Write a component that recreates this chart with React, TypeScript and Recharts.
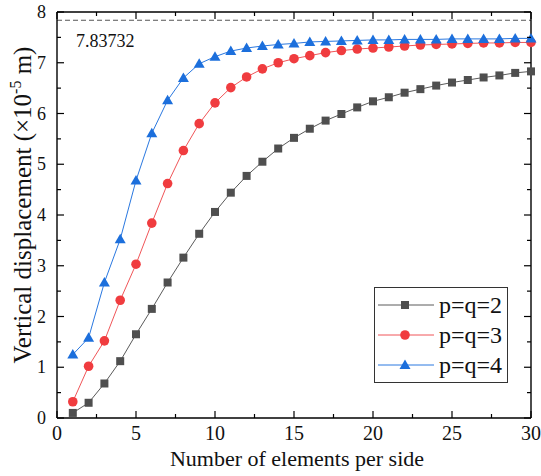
import React from "react";
import {
  LineChart,
  Line,
  XAxis,
  YAxis,
  ReferenceLine,
  Legend,
} from "recharts";

const elements = [1, 2, 3, 4, 5, 6, 7, 8, 9, 10, 11, 12, 13, 14, 15, 16, 17, 18, 19, 20, 21, 22, 23, 24, 25, 26, 27, 28, 29, 30];

const pq2 = [0.1, 0.3, 0.68, 1.12, 1.65, 2.15, 2.67, 3.16, 3.63, 4.06, 4.44, 4.77, 5.05, 5.31, 5.52, 5.7, 5.86, 5.99, 6.12, 6.24, 6.32, 6.41, 6.48, 6.55, 6.61, 6.66, 6.71, 6.75, 6.8, 6.83];
const pq3 = [0.32, 1.02, 1.52, 2.32, 3.03, 3.84, 4.62, 5.27, 5.8, 6.21, 6.51, 6.72, 6.88, 7.0, 7.08, 7.14, 7.2, 7.24, 7.27, 7.29, 7.31, 7.33, 7.35, 7.36, 7.37, 7.38, 7.39, 7.39, 7.4, 7.4];
const pq4 = [1.25, 1.58, 2.67, 3.52, 4.68, 5.61, 6.26, 6.7, 6.98, 7.12, 7.23, 7.29, 7.33, 7.36, 7.38, 7.41, 7.42, 7.43, 7.44, 7.45, 7.45, 7.46, 7.46, 7.46, 7.47, 7.47, 7.47, 7.47, 7.48, 7.48];

const exactValue = 7.83732;

const xTicks = [0, 2.5, 5, 7.5, 10, 12.5, 15, 17.5, 20, 22.5, 25, 27.5, 30];
const yTicks = [0, 0.5, 1, 1.5, 2, 2.5, 3, 3.5, 4, 4.5, 5, 5.5, 6, 6.5, 7, 7.5, 8];

const seriesNames = ["p=q=2", "p=q=3", "p=q=4"];

const data = elements.map((n, i) => ({ n, pq2: pq2[i], pq3: pq3[i], pq4: pq4[i] }));

const FONT = "Liberation Serif";
const serif = { fontFamily: "'Liberation Serif', serif" };
const colors = { pq2: "#4f4f4f", pq3: "#f03c3f", pq4: "#1c6fdc" };
const lineColors = { pq2: "#5a5a5a", pq3: "#f05558", pq4: "#2a78e0" };

const isMajor = (v: number) => Number.isInteger(v);

const BottomTick = ({ x, y, payload }: any) => {
  const major = payload.value % 5 === 0;
  return (
    <g>
      <line x1={x} y1={y} x2={x} y2={y - (major ? 7 : 4)} stroke="#000" strokeWidth={1.2} />
      {major && (
        <text x={x} y={y + 22} textAnchor="middle" fontSize={20} fontFamily={FONT} style={serif} fill="#111">
          {payload.value}
        </text>
      )}
    </g>
  );
};

const TopTick = ({ x, y, payload }: any) => {
  const len = payload.value % 5 === 0 ? 7 : 4;
  return <line x1={x} y1={y} x2={x} y2={y + len} stroke="#000" strokeWidth={1.2} />;
};

const LeftTick = ({ x, y, payload }: any) => {
  const major = isMajor(payload.value);
  return (
    <g>
      <line x1={x} y1={y} x2={x + (major ? 7 : 4)} y2={y} stroke="#000" strokeWidth={1.2} />
      {major && (
        <text x={x - 11} y={y + 6} textAnchor="end" fontSize={18} fontFamily={FONT} style={serif} fill="#111">
          {payload.value}
        </text>
      )}
    </g>
  );
};

const RightTick = ({ x, y, payload }: any) => {
  const len = isMajor(payload.value) ? 7 : 4;
  return <line x1={x} y1={y} x2={x - len} y2={y} stroke="#000" strokeWidth={1.2} />;
};

const Square = ({ cx, cy, fill }: any) => <rect x={cx - 4} y={cy - 4} width={8} height={8} fill={fill} />;
const Circle = ({ cx, cy, fill }: any) => <circle cx={cx} cy={cy} r={4.8} fill={fill} />;
const Triangle = ({ cx, cy, fill }: any) => (
  <polygon points={`${cx},${cy - 5.5} ${cx - 5.5},${cy + 4} ${cx + 5.5},${cy + 4}`} fill={fill} />
);

const markers = [Square, Circle, Triangle];
const keys = ["pq2", "pq3", "pq4"] as const;

const LegendBox = () => (
  <svg width={134} height={97} style={{ display: "block" }}>
    <rect x={0.5} y={0.5} width={133} height={95} fill="#fff" stroke="#333" strokeWidth={1} />
    {keys.map((k, i) => {
      const M = markers[i];
      const cy = 18 + i * 30;
      return (
        <g key={k}>
          <line x1={4} y1={cy} x2={60} y2={cy} stroke={lineColors[k]} strokeWidth={1} />
          <M cx={31} cy={cy} fill={colors[k]} />
          <text x={65} y={cy + 8} fontSize={24} fontFamily={FONT} style={serif} fill="#111">
            {seriesNames[i]}
          </text>
        </g>
      );
    })}
  </svg>
);

export default function App() {
  return (
    <div style={{ position: "absolute", left: 0, top: 0, background: "#fff", fontFamily: "'Liberation Serif', serif" }}>
      <LineChart
        width={541}
        height={476}
        data={data}
        margin={{ top: 11, right: 9, bottom: 0, left: 0 }}
        style={serif}
      >
        <XAxis
          dataKey="n"
          type="number"
          domain={[0, 30]}
          ticks={xTicks}
          interval={0}
          height={58}
          tickSize={0}
          tickMargin={0}
          tickLine={false}
          axisLine={{ stroke: "#000", strokeWidth: 1.4 }}
          tick={<BottomTick />}
          label={{
            content: () => (
              <text x={297} y={466} textAnchor="middle" fontSize={22} fontFamily={FONT} style={serif} fill="#111">
                Number of elements per side
              </text>
            ),
          }}
        />
        <XAxis
          xAxisId="top"
          orientation="top"
          dataKey="n"
          type="number"
          domain={[0, 30]}
          ticks={xTicks}
          interval={0}
          height={1}
          tickSize={0}
          tickMargin={0}
          tickLine={false}
          axisLine={{ stroke: "#000", strokeWidth: 1.4 }}
          tick={<TopTick />}
        />
        <YAxis
          type="number"
          domain={[0, 8]}
          ticks={yTicks}
          interval={0}
          width={57}
          tickSize={0}
          tickMargin={0}
          tickLine={false}
          axisLine={{ stroke: "#000", strokeWidth: 1.4 }}
          tick={<LeftTick />}
          label={{
            content: () => (
              <text
                transform="translate(31,205) rotate(-90)"
                textAnchor="middle"
                fontSize={25}
                fontFamily={FONT}
                style={serif}
                fill="#111"
              >
                Vertical displacement (×10
                <tspan fontSize={16} dy={-10}>-5</tspan>
                <tspan dy={10}> m)</tspan>
              </text>
            ),
          }}
        />
        <YAxis
          yAxisId="right"
          orientation="right"
          type="number"
          domain={[0, 8]}
          ticks={yTicks}
          interval={0}
          width={1}
          tickSize={0}
          tickMargin={0}
          tickLine={false}
          axisLine={{ stroke: "#000", strokeWidth: 1.4 }}
          tick={<RightTick />}
        />
        {/* invisible series so the mirrored frame axes get drawn */}
        <Line
          xAxisId="top"
          yAxisId="right"
          dataKey="pq2"
          stroke="transparent"
          dot={false}
          activeDot={false}
          legendType="none"
          isAnimationActive={false}
        />
        <ReferenceLine
          y={exactValue}
          stroke="#555"
          strokeWidth={1}
          strokeDasharray="5 3"
          label={{
            content: ({ viewBox }: any) => (
              <text x={viewBox.x + 19} y={viewBox.y + 27} fontSize={18} fontFamily={FONT} style={serif} fill="#111">
                {exactValue}
              </text>
            ),
          }}
        />
        {keys.map((k, i) => {
          const M = markers[i];
          return (
            <Line
              key={k}
              dataKey={k}
              name={seriesNames[i]}
              type="linear"
              stroke={lineColors[k]}
              strokeWidth={1}
              dot={(p: any) => <M key={`${k}-${p.index}`} cx={p.cx} cy={p.cy} fill={colors[k]} />}
              activeDot={false}
              isAnimationActive={false}
            />
          );
        })}
        <Legend
          layout="horizontal"
          verticalAlign="middle"
          align="center"
          wrapperStyle={{ position: "absolute", left: 374, top: 287, width: 134, height: 97 }}
          content={() => <LegendBox />}
        />
      </LineChart>
    </div>
  );
}
